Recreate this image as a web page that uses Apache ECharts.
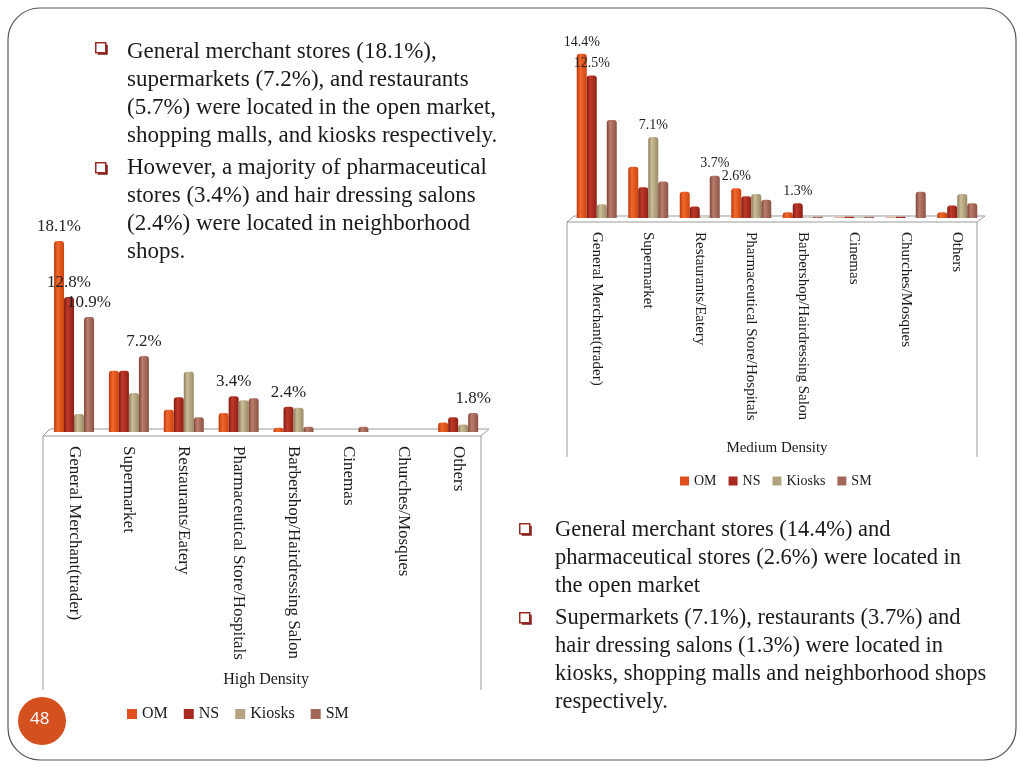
<!DOCTYPE html>
<html>
<head>
<meta charset="utf-8">
<script src="https://cdn.jsdelivr.net/npm/echarts@6/dist/echarts.min.js"></script>
<style>
html,body{margin:0;padding:0;background:#fff;}
#chart{width:1024px;height:768px;}
</style>
</head>
<body>
<div id="chart"></div>
<script>
// ---- data ----
const categories = ['General Merchant(trader)', 'Supermarket', 'Restaurants/Eatery', 'Pharmaceutical Store/Hospitals', 'Barbershop/Hairdressing Salon', 'Cinemas', 'Churches/Mosques', 'Others'];
const seriesNames = ['OM', 'NS', 'Kiosks', 'SM'];

// High Density (%)
const highOM     = [18.1, 5.8, 2.1, 1.8, 0.4, 0,   0, 0.9];
const highNS     = [12.8, 5.8, 3.3, 3.4, 2.4, 0,   0, 1.4];
const highKiosks = [1.7,  3.7, 5.7, 3.0, 2.3, 0,   0, 0.7];
const highSM     = [10.9, 7.2, 1.4, 3.2, 0.5, 0.5, 0, 1.8];
// indices of bars carrying a value label
const highLabelled = { OM: [0], NS: [0, 3, 4], Kiosks: [], SM: [0, 1, 7] };

// Medium Density (%)
const medOM     = [14.4, 4.5, 2.3, 2.6, 0.5, 0.05, 0.05, 0.5];
const medNS     = [12.5, 2.7, 1.0, 1.9, 1.3, 0.1,  0.1,  1.1];
const medKiosks = [1.2,  7.1, 0.05, 2.1, 0.05, 0.05, 0,  2.1];
const medSM     = [8.6,  3.2, 3.7, 1.6, 0.1, 0.1,  2.3,  1.3];
const medLabelled = { OM: [0, 3], NS: [0, 4], Kiosks: [1], SM: [2] };

const highTitle = 'High Density';
const medTitle = 'Medium Density';

const leftText1 = 'General merchant stores (18.1%),\nsupermarkets (7.2%), and restaurants\n(5.7%) were located in the open market,\nshopping malls, and kiosks respectively.';
const leftText2 = 'However, a majority of pharmaceutical\nstores (3.4%) and hair dressing salons\n(2.4%) were located in neighborhood\nshops.';
const rightText1 = 'General merchant stores (14.4%) and\npharmaceutical stores (2.6%) were located in\nthe open market';
const rightText2 = 'Supermarkets (7.1%), restaurants (3.7%) and\nhair dressing salons (1.3%) were located in\nkiosks, shopping malls and neighborhood shops\nrespectively.';
const pageNumber = '48';

// ---- styles ----
const SERIF = '"Liberation Serif", "DejaVu Serif", serif';
const baseColors = {
  OM: ['#b9380c', '#f0692c', '#cf440f'],
  NS: ['#7e1a12', '#c0392a', '#8f2016'],
  Kiosks: ['#8d7f5c', '#cbbd98', '#9a8b66'],
  SM: ['#7d4538', '#bb7d6d', '#8b5244']
};
const legendColors = { OM: '#e0501e', NS: '#a82a20', Kiosks: '#b3a47f', SM: '#a2685a' };

function grad(name) {
  const c = baseColors[name];
  return new echarts.graphic.LinearGradient(0, 0, 1, 0, [
    { offset: 0, color: c[0] },
    { offset: 0.35, color: c[1] },
    { offset: 1, color: c[2] }
  ]);
}

function buildData(values, labelled, fontSize, dist) {
  return values.map((v, i) => {
    if (labelled.indexOf(i) >= 0) {
      return {
        value: v,
        label: {
          show: true, position: 'top', distance: dist,
          formatter: v.toFixed(1) + '%',
          fontFamily: SERIF, fontSize: fontSize, color: '#222'
        }
      };
    }
    return v;
  });
}

const highVals = { OM: highOM, NS: highNS, Kiosks: highKiosks, SM: highSM };
const medVals = { OM: medOM, NS: medNS, Kiosks: medKiosks, SM: medSM };

const series = [];
seriesNames.forEach(n => {
  series.push({
    name: n, type: 'bar', xAxisIndex: 0, yAxisIndex: 0,
    barWidth: 10, barGap: '0%',
    itemStyle: { color: grad(n), borderRadius: [3, 3, 0, 0] },
    data: buildData(highVals[n], highLabelled[n], 17, 6),
    animation: false
  });
});
seriesNames.forEach(n => {
  series.push({
    name: n, type: 'bar', xAxisIndex: 1, yAxisIndex: 1,
    barWidth: 10, barGap: '0%',
    itemStyle: { color: grad(n), borderRadius: [3, 3, 0, 0] },
    data: buildData(medVals[n], medLabelled[n], 14, 5),
    animation: false
  });
});

const legendData = seriesNames.map(n => ({ name: n, itemStyle: { color: legendColors[n] } }));

function bullet(x, y) {
  return {
    type: 'group', left: x, top: y,
    children: [
      { type: 'rect', shape: { x: 2, y: 2, width: 10, height: 10 }, style: { fill: '#7a1f1a' } },
      { type: 'rect', shape: { x: 0, y: 0, width: 10, height: 10 }, style: { fill: '#fff', stroke: '#9a2a22', lineWidth: 1.5 } }
    ]
  };
}

function para(x, y, text, size) {
  return {
    type: 'text', left: x, top: y,
    style: { text: text, font: size + 'px ' + SERIF, fill: '#1a1a1a', lineHeight: 28 }
  };
}

const boxStroke = { stroke: '#9a9a9a', lineWidth: 1, fill: 'none' };

const option = {
  animation: false,
  grid: [
    { left: 46.6, width: 439, top: 221, height: 211 },
    { left: 571, width: 412, top: 35.6, height: 182.4 }
  ],
  xAxis: [
    {
      type: 'category', gridIndex: 0, data: categories,
      axisLine: { show: false }, axisTick: { show: false },
      axisLabel: { rotate: -90, interval: 0, fontFamily: SERIF, fontSize: 17, color: '#1a1a1a', margin: 14 },
      name: highTitle, nameLocation: 'middle', nameGap: 240,
      nameTextStyle: { fontFamily: SERIF, fontSize: 16, color: '#1a1a1a' }
    },
    {
      type: 'category', gridIndex: 1, data: categories,
      axisLine: { show: false }, axisTick: { show: false },
      axisLabel: { rotate: -90, interval: 0, fontFamily: SERIF, fontSize: 15, color: '#1a1a1a', margin: 14 },
      name: medTitle, nameLocation: 'middle', nameGap: 223,
      nameTextStyle: { fontFamily: SERIF, fontSize: 15, color: '#1a1a1a' }
    }
  ],
  yAxis: [
    { type: 'value', gridIndex: 0, min: 0, max: 20, show: false, splitLine: { show: false } },
    { type: 'value', gridIndex: 1, min: 0, max: 16, show: false, splitLine: { show: false } }
  ],
  legend: [
    {
      data: legendData, left: 122, top: 701, icon: 'rect', itemWidth: 10, itemHeight: 10, itemGap: 16,
      textStyle: { fontFamily: SERIF, fontSize: 16, color: '#1a1a1a' }, selectedMode: false
    },
    {
      data: legendData, left: 675, top: 469, icon: 'rect', itemWidth: 9, itemHeight: 9, itemGap: 12,
      textStyle: { fontFamily: SERIF, fontSize: 14, color: '#1a1a1a' }, selectedMode: false
    }
  ],
  series: series,
  graphic: [
    // slide border
    { type: 'rect', shape: { x: 8, y: 8, width: 1008, height: 752, r: 32 }, style: { fill: 'none', stroke: '#555', lineWidth: 1.2 }, z: -1 },
    // page number
    { type: 'circle', shape: { cx: 42, cy: 721, r: 24 }, style: { fill: '#d4501f' } },
    { type: 'text', left: 30, top: 711, style: { text: pageNumber, font: '17px "Open Sans", sans-serif', fill: '#fff' } },
    // left chart frame
    { type: 'polyline', shape: { points: [[43, 690], [43, 436], [50, 429], [489, 429], [481, 436], [43, 436]] }, style: boxStroke, z: -1 },
    { type: 'polyline', shape: { points: [[481, 436], [481, 690]] }, style: boxStroke, z: -1 },
    // right chart frame
    { type: 'polyline', shape: { points: [[567, 457], [567, 222], [574, 216], [985, 216], [977, 222], [567, 222]] }, style: boxStroke, z: -1 },
    { type: 'polyline', shape: { points: [[977, 222], [977, 457]] }, style: boxStroke, z: -1 },
    // texts
    bullet(95, 42), bullet(95, 162),
    para(127, 38, leftText1, 23),
    para(127, 154, leftText2, 23),
    bullet(519, 523), bullet(519, 612),
    para(555, 516, rightText1, 22.5),
    para(555, 604, rightText2, 22.5)
  ]
};

const chart = echarts.init(document.getElementById('chart'), null, { renderer: 'canvas' });
chart.setOption(option);
</script>
</body>
</html>
